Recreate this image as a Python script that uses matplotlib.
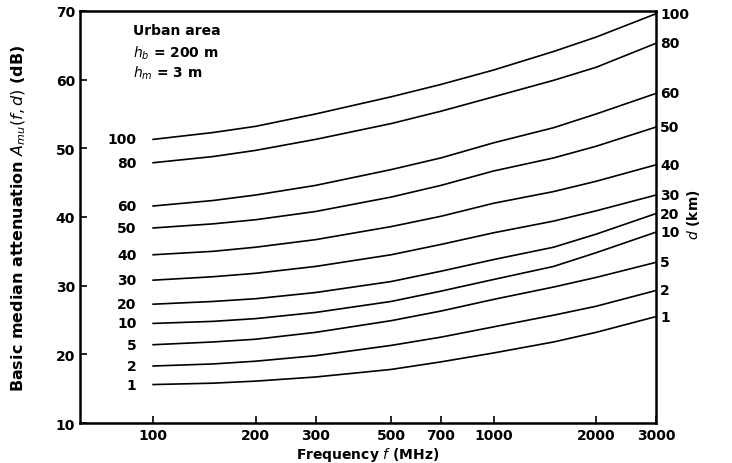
import matplotlib
matplotlib.use("Agg")
import matplotlib.pyplot as plt

freqs = [100, 150, 200, 300, 500, 700, 1000, 1500, 2000, 3000]
distances = ["100", "80", "60", "50", "40", "30", "20", "10", "5", "2", "1"]
d100 = [51.3, 52.3, 53.2, 55.0, 57.5, 59.3, 61.4, 64.1, 66.2, 69.6]
d80 = [47.9, 48.8, 49.7, 51.3, 53.6, 55.4, 57.5, 59.9, 61.8, 65.3]
d60 = [41.6, 42.4, 43.2, 44.6, 46.9, 48.6, 50.8, 53.0, 55.0, 58.0]
d50 = [38.4, 39.0, 39.6, 40.8, 42.9, 44.6, 46.7, 48.6, 50.3, 53.1]
d40 = [34.5, 35.0, 35.6, 36.7, 38.6, 40.1, 42.0, 43.7, 45.2, 47.6]
d30 = [30.8, 31.3, 31.8, 32.8, 34.5, 36.0, 37.7, 39.4, 40.9, 43.2]
d20 = [27.3, 27.7, 28.1, 29.0, 30.6, 32.1, 33.8, 35.6, 37.5, 40.5]
d10 = [24.5, 24.8, 25.2, 26.1, 27.7, 29.2, 30.9, 32.8, 34.8, 37.8]
d5 = [21.4, 21.8, 22.2, 23.2, 24.9, 26.3, 28.0, 29.8, 31.2, 33.4]
d2 = [18.3, 18.6, 19.0, 19.8, 21.3, 22.5, 24.0, 25.7, 27.0, 29.3]
d1 = [15.6, 15.8, 16.1, 16.7, 17.8, 18.9, 20.2, 21.8, 23.2, 25.5]
series = [d100, d80, d60, d50, d40, d30, d20, d10, d5, d2, d1]

xticks = [100, 200, 300, 500, 700, 1000, 2000, 3000]
yticks = [10, 20, 30, 40, 50, 60, 70]

fig = plt.figure(figsize=(7.32, 4.64), dpi=100)
ax = fig.add_axes([0.1093, 0.0862, 0.787, 0.888])

for vals, lab in zip(series, distances):
    ax.plot(freqs, vals, color="black", lw=1.2)
    ax.annotate(lab, xy=(freqs[0], vals[0]), xytext=(-12, 0), textcoords="offset points",
                ha="right", va="center", fontsize=10, fontweight="bold")
    ax.annotate(lab, xy=(freqs[-1], vals[-1]), xytext=(3, 0), textcoords="offset points",
                ha="left", va="center", fontsize=10, fontweight="bold", annotation_clip=False)

ax.set_xscale("log")
ax.set_xlim(61, 3000)
ax.set_ylim(10, 70)
ax.set_xticks(xticks)
ax.set_xticklabels([str(t) for t in xticks], fontsize=10, fontweight="bold")
ax.minorticks_off()
ax.set_yticks(yticks)
ax.set_yticklabels([str(t) for t in yticks], fontsize=10, fontweight="bold")
ax.tick_params(direction="in", length=5, width=1.2)
for s in ax.spines.values():
    s.set_linewidth(1.8)

ax.set_xlabel("Frequency $f$ (MHz)", fontsize=10, fontweight="bold", labelpad=2)
ax.set_ylabel("Basic median attenuation $A_{mu}(f, d)$ (dB)", fontsize=11.5,
              fontweight="bold", labelpad=20)

ax.text(0.092, 0.955, "Urban area", transform=ax.transAxes, fontsize=10,
        fontweight="bold", va="center")
ax.text(0.092, 0.9, "$h_b$ = 200 m", transform=ax.transAxes, fontsize=10,
        fontweight="bold", va="center")
ax.text(0.092, 0.85, "$h_m$ = 3 m", transform=ax.transAxes, fontsize=10,
        fontweight="bold", va="center")

fig.text(0.948, 0.537, "$d$ (km)", rotation=90, fontsize=10, ha="center", va="center",
         fontweight="bold")

fig.savefig("out.png", dpi=100)
